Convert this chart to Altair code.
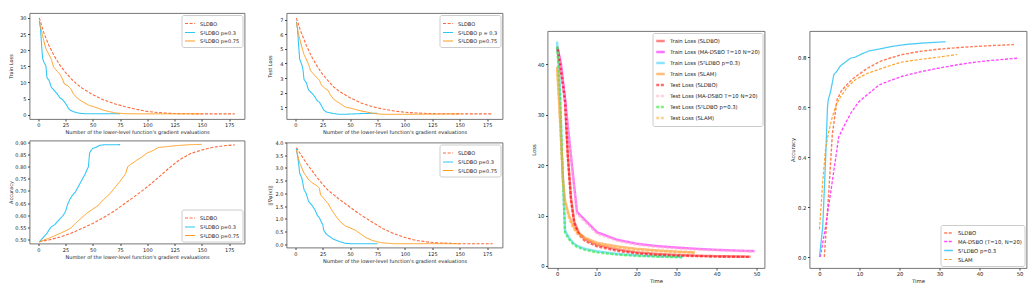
import altair as alt
import pandas as pd

FONT = "DejaVu Sans"
TXT = "#222222"

XT_EVAL = [0, 25, 50, 75, 100, 125, 150, 175]
XT_TIME = [0, 10, 20, 30, 40, 50]
EVAL_TITLE = "Number of the lower-level function's gradient evaluations"

# ---------- panel 1: train loss vs evaluations ----------
P1_SLDBO_X = [1, 5, 10, 15, 20, 25, 30, 35, 40, 50, 60, 70, 80, 90, 100, 110, 120, 130, 140, 180]
P1_SLDBO_Y = [30.0, 25.5, 21.3, 18.0, 15.3, 13.1, 11.2, 9.6, 8.3, 6.2, 4.6, 3.4, 2.5, 1.7, 1.0, 0.7, 0.45, 0.35, 0.3, 0.3]
P1_S2_03_X = [1, 2, 3, 4, 5, 6, 7, 8, 10, 12, 14, 16, 18, 20, 22, 24, 26, 28, 30, 33, 36, 40, 45, 50, 60, 75]
P1_S2_03_Y = [29.0, 27.0, 22.0, 17.5, 16.5, 15.8, 15.2, 11.5, 10.6, 8.5, 7.8, 7.0, 6.2, 5.2, 4.8, 4.0, 3.0, 1.8, 1.3, 0.9, 0.6, 0.4, 0.3, 0.3, 0.3, 0.3]
P1_S2_075_X = [1, 3, 5, 7, 10, 12, 14, 17, 20, 22, 24, 27, 30, 32, 35, 38, 42, 46, 50, 55, 60, 65, 70, 75, 80, 90, 100, 120, 150]
P1_S2_075_Y = [28.5, 26.0, 23.0, 20.5, 18.5, 17.2, 14.8, 13.6, 12.5, 11.2, 9.5, 9.0, 8.0, 6.6, 5.4, 4.6, 3.8, 3.0, 2.6, 2.0, 1.4, 1.0, 0.6, 0.45, 0.35, 0.3, 0.3, 0.3, 0.3]

# ---------- panel 2: test loss vs evaluations ----------
P2_SLDBO_X = [1, 5, 10, 15, 20, 25, 30, 35, 40, 50, 60, 70, 80, 90, 100, 110, 120, 130, 150, 180]
P2_SLDBO_Y = [7.1, 6.2, 5.25, 4.45, 3.8, 3.25, 2.8, 2.4, 2.1, 1.65, 1.3, 1.05, 0.88, 0.75, 0.66, 0.61, 0.58, 0.56, 0.55, 0.55]
P2_S2_03_X = [1, 2, 3, 4, 5, 6, 7, 8, 10, 12, 14, 16, 18, 20, 22, 24, 26, 28, 30, 35, 40, 45, 50, 60, 75]
P2_S2_03_Y = [6.85, 6.4, 5.3, 4.3, 4.1, 3.9, 3.6, 2.9, 2.7, 2.2, 2.05, 1.9, 1.7, 1.45, 1.35, 1.1, 0.8, 0.7, 0.65, 0.57, 0.52, 0.52, 0.54, 0.57, 0.6]
P2_S2_075_X = [1, 3, 5, 8, 10, 12, 14, 17, 20, 22, 24, 27, 30, 32, 35, 38, 42, 46, 50, 55, 60, 65, 70, 75, 80, 90, 100, 120, 150]
P2_S2_075_Y = [6.8, 6.0, 5.4, 4.6, 4.3, 3.95, 3.5, 3.25, 3.0, 2.85, 2.5, 2.3, 2.15, 1.85, 1.55, 1.4, 1.2, 1.0, 0.95, 0.85, 0.75, 0.68, 0.6, 0.55, 0.52, 0.52, 0.52, 0.53, 0.55]

# ---------- panel 3: accuracy vs evaluations ----------
P3_SLDBO_X = [1, 10, 20, 30, 40, 50, 60, 70, 80, 90, 100, 110, 120, 130, 140, 150, 160, 170, 180]
P3_SLDBO_Y = [0.49, 0.498, 0.51, 0.525, 0.545, 0.566, 0.59, 0.618, 0.65, 0.683, 0.717, 0.755, 0.795, 0.83, 0.855, 0.869, 0.88, 0.886, 0.89]
P3_S2_03_X = [1, 3, 5, 8, 10, 12, 15, 18, 20, 23, 25, 27, 29, 31, 34, 37, 40, 43, 46, 47, 48, 50, 53, 56, 60, 75]
P3_S2_03_Y = [0.49, 0.50, 0.51, 0.525, 0.54, 0.552, 0.56, 0.575, 0.585, 0.60, 0.615, 0.645, 0.665, 0.68, 0.695, 0.72, 0.745, 0.77, 0.80, 0.855, 0.865, 0.875, 0.88, 0.888, 0.89, 0.891]
P3_S2_075_X = [1, 5, 10, 15, 20, 25, 30, 35, 40, 45, 50, 55, 60, 65, 70, 75, 80, 82, 85, 90, 95, 100, 105, 110, 120, 130, 140, 150]
P3_S2_075_Y = [0.49, 0.497, 0.505, 0.515, 0.525, 0.535, 0.547, 0.57, 0.59, 0.61, 0.625, 0.64, 0.665, 0.685, 0.712, 0.74, 0.77, 0.80, 0.81, 0.826, 0.84, 0.857, 0.866, 0.879, 0.884, 0.888, 0.891, 0.892]

# ---------- panel 4: gradient norm vs evaluations ----------
P4_SLDBO_X = [1, 10, 20, 25, 30, 40, 50, 60, 70, 80, 90, 100, 110, 120, 130, 150, 180]
P4_SLDBO_Y = [3.8, 3.2, 2.62, 2.36, 2.12, 1.78, 1.46, 1.15, 0.88, 0.62, 0.42, 0.27, 0.16, 0.1, 0.06, 0.03, 0.03]
P4_S2_03_X = [1, 2, 3, 4, 6, 8, 10, 12, 15, 18, 20, 22, 24, 25, 26, 28, 30, 35, 40, 45, 50, 60, 75]
P4_S2_03_Y = [3.75, 3.5, 3.2, 2.8, 2.6, 2.15, 2.0, 1.7, 1.55, 1.35, 1.15, 1.05, 0.85, 0.8, 0.55, 0.42, 0.35, 0.2, 0.12, 0.05, 0.03, 0.03, 0.03]
P4_S2_075_X = [1, 4, 8, 12, 16, 20, 22, 23, 26, 30, 34, 38, 42, 46, 50, 55, 60, 64, 70, 75, 80, 90, 150]
P4_S2_075_Y = [3.7, 3.2, 2.8, 2.55, 2.4, 2.3, 2.2, 1.95, 1.8, 1.6, 1.3, 1.05, 0.85, 0.72, 0.65, 0.55, 0.4, 0.28, 0.16, 0.1, 0.06, 0.03, 0.03]

# ---------- panel 5: train / test loss vs time ----------
P5_SLDBO_T = [0.1, 1, 2, 2.7, 3.5, 4.3, 5.5, 7, 10, 15, 20, 25, 30, 35, 40, 48.5]
P5_SLDBO_TRAIN = [43.5, 39.0, 33.0, 22.0, 13.5, 8.8, 6.5, 5.3, 4.2, 3.3, 2.7, 2.4, 2.2, 2.05, 1.95, 1.85]
P5_SLDBO_TEST = [43.0, 38.5, 32.5, 21.5, 13.0, 8.5, 6.2, 5.0, 3.9, 3.0, 2.5, 2.2, 2.05, 1.95, 1.85, 1.8]
P5_MADSBO_T = [0.2, 1, 2, 3, 4, 5, 10, 15, 20, 25, 30, 35, 40, 45, 49.5]
P5_MADSBO_TRAIN = [43.0, 40.0, 33.0, 25.5, 18.0, 10.7, 6.7, 5.2, 4.4, 3.95, 3.65, 3.4, 3.2, 3.05, 2.95]
P5_MADSBO_TEST = [42.5, 39.5, 32.5, 25.0, 17.5, 10.3, 6.4, 5.0, 4.2, 3.75, 3.45, 3.25, 3.1, 2.95, 2.85]
P5_S2_T = [0.0, 0.4, 0.8, 1.2, 1.7, 2.0, 3, 4, 5, 7, 10, 15, 20, 25, 31.5]
P5_S2_TRAIN = [44.5, 40.0, 33.0, 23.0, 13.0, 7.0, 5.6, 4.6, 4.0, 3.4, 2.9, 2.4, 2.1, 1.95, 1.8]
P5_S2_TEST = [43.5, 39.0, 32.0, 22.0, 12.5, 6.6, 5.3, 4.4, 3.8, 3.2, 2.7, 2.25, 2.0, 1.85, 1.7]
P5_SLAM_T = [0.0, 0.5, 1.0, 1.5, 2.0, 3.0, 4.0, 5.0, 7.0, 10, 15, 20, 25, 30, 34.5]
P5_SLAM_TRAIN = [39.5, 33.0, 25.0, 17.0, 13.0, 10.0, 8.0, 6.8, 5.6, 4.6, 3.9, 3.4, 3.1, 2.85, 2.7]
P5_SLAM_TEST = [39.0, 32.5, 24.5, 16.5, 12.5, 9.5, 7.6, 6.4, 5.3, 4.3, 3.6, 3.15, 2.9, 2.7, 2.6]

# ---------- panel 6: accuracy vs time ----------
P6_SLDBO_T = [1.2, 2.3, 3.2, 4.4, 5.5, 6.9, 8.5, 9.8, 12, 14.8, 17.5, 20.7, 25, 29, 35, 40, 48.6]
P6_SLDBO_Y = [0.0, 0.255, 0.49, 0.63, 0.665, 0.69, 0.715, 0.73, 0.755, 0.78, 0.795, 0.81, 0.822, 0.83, 0.838, 0.843, 0.85]
P6_MADSBO_T = [0.2, 1.5, 3.0, 4.8, 6, 8, 9.8, 12, 14.8, 17.5, 20.7, 25, 29, 33, 37.3, 42, 49.4]
P6_MADSBO_Y = [0.0, 0.12, 0.28, 0.48, 0.52, 0.58, 0.62, 0.65, 0.687, 0.705, 0.723, 0.74, 0.753, 0.765, 0.776, 0.785, 0.795]
P6_S2_T = [0.0, 0.8, 1.5, 2.0, 2.2, 2.75, 3.6, 4.2, 5.25, 6.5, 7.75, 9.0, 10.5, 12.3, 15, 18, 21.5, 26, 31.5]
P6_S2_Y = [0.0, 0.12, 0.38, 0.6, 0.63, 0.66, 0.73, 0.74, 0.765, 0.78, 0.795, 0.8, 0.812, 0.824, 0.832, 0.842, 0.85, 0.856, 0.861]
P6_SLAM_T = [0.0, 0.8, 1.5, 2.3, 3.2, 4.2, 5.25, 7, 9, 12, 14.8, 17.5, 20.7, 25, 30, 34.4]
P6_SLAM_Y = [0.11, 0.3, 0.43, 0.5, 0.56, 0.61, 0.64, 0.68, 0.71, 0.735, 0.75, 0.765, 0.78, 0.79, 0.8, 0.81]

SOLID = [1, 0]
DASH = [3, 1.6]

RED_D = "#ff6a3d"
CYAN = "#2fc6f6"
ORANGE = "#ff9d1f"

STYLE_CHANNELS = dict(color="independent", strokeDash="independent",
                      strokeWidth="independent", opacity="independent")


def long_df(series):
    rows = []
    for name, xs, ys, *_ in series:
        for i, (x, y) in enumerate(zip(xs, ys)):
            rows.append({"x": x, "y": y, "series": name, "i": i})
    return pd.DataFrame(rows)


def panel(series, xdom, ydom, xticks, yticks, yfmt, xtitle, ytitle,
          width, height, yext, legend_orient, fs=5.0, ytp=2.0, sym=100):
    # series entries: (name, xs, ys, color, dash, width, opacity)
    names = [s[0] for s in series]
    df = long_df(series)
    leg = alt.Legend(
        title=None, orient=legend_orient, offset=2, padding=2.5,
        labelFont=FONT, labelFontSize=fs, labelColor=TXT, labelOffset=4,
        symbolType="stroke", symbolSize=sym, rowPadding=0,
        strokeColor="#cccccc", fillColor="white", cornerRadius=2,
        labelLimit=300,
    )
    axis_common = dict(
        labelFont=FONT, titleFont=FONT, labelFontSize=fs, titleFontSize=fs,
        labelColor=TXT, titleColor=TXT, titleFontWeight="normal",
        tickSize=2, tickColor="#444444", domain=False, grid=False,
    )
    return alt.Chart(df).mark_line(clip=True).encode(
        x=alt.X("x:Q", scale=alt.Scale(domain=xdom, nice=False, zero=False),
                axis=alt.Axis(values=xticks, title=xtitle, labelPadding=1.5,
                              titlePadding=2, **axis_common)),
        y=alt.Y("y:Q", scale=alt.Scale(domain=ydom, nice=False, zero=False),
                axis=alt.Axis(values=yticks, format=yfmt, title=ytitle,
                              labelPadding=1.5, titlePadding=ytp,
                              minExtent=yext, maxExtent=yext, **axis_common)),
        color=alt.Color("series:N", scale=alt.Scale(domain=names, range=[s[3] for s in series]), legend=leg),
        strokeDash=alt.StrokeDash("series:N", scale=alt.Scale(domain=names, range=[s[4] for s in series]), legend=leg),
        strokeWidth=alt.StrokeWidth("series:N", scale=alt.Scale(domain=names, range=[s[5] for s in series]), legend=leg),
        opacity=alt.Opacity("series:N", scale=alt.Scale(domain=names, range=[s[6] for s in series]), legend=leg),
        order="i:Q",
    ).properties(width=width, height=height)


def indep(c):
    return c.resolve_scale(**STYLE_CHANNELS).resolve_legend(**STYLE_CHANNELS)


S03 = "S²LDBO p=0.3"
S075 = "S²LDBO p=0.75"

p1 = panel([
    ("SLDBO", P1_SLDBO_X, P1_SLDBO_Y, RED_D, DASH, 1.1, 1.0),
    (S03, P1_S2_03_X, P1_S2_03_Y, CYAN, SOLID, 1.0, 1.0),
    (S075, P1_S2_075_X, P1_S2_075_Y, ORANGE, SOLID, 1.3, 0.9),
], [-8, 189], [-1.3, 31.5], XT_EVAL, [0, 5, 10, 15, 20, 25, 30], "d",
    EVAL_TITLE, "Train Loss", 215, 106, 14, "top-right")

p2 = panel([
    ("SLDBO", P2_SLDBO_X, P2_SLDBO_Y, RED_D, DASH, 1.1, 1.0),
    ("S²LDBO p = 0.3", P2_S2_03_X, P2_S2_03_Y, CYAN, SOLID, 1.0, 1.0),
    (S075, P2_S2_075_X, P2_S2_075_Y, ORANGE, SOLID, 1.3, 0.9),
], [-8, 189], [0.2, 7.45], XT_EVAL, [1, 2, 3, 4, 5, 6, 7], "d",
    EVAL_TITLE, "Test Loss", 216, 106, 12.5, "top-right")

p3 = panel([
    ("SLDBO", P3_SLDBO_X, P3_SLDBO_Y, RED_D, DASH, 1.1, 1.0),
    (S03, P3_S2_03_X, P3_S2_03_Y, CYAN, SOLID, 1.0, 1.0),
    (S075, P3_S2_075_X, P3_S2_075_Y, ORANGE, SOLID, 1.3, 0.9),
], [-8, 189], [0.483, 0.908], XT_EVAL,
    [0.50, 0.55, 0.60, 0.65, 0.70, 0.75, 0.80, 0.85, 0.90], ".2f",
    EVAL_TITLE, "Accuracy", 215, 103, 14, "bottom-right")

p4 = panel([
    ("SLDBO", P4_SLDBO_X, P4_SLDBO_Y, RED_D, DASH, 1.1, 1.0),
    (S03, P4_S2_03_X, P4_S2_03_Y, CYAN, SOLID, 1.0, 1.0),
    (S075, P4_S2_075_X, P4_S2_075_Y, ORANGE, SOLID, 1.3, 0.9),
], [-8, 189], [-0.12, 4.0], XT_EVAL,
    [0.0, 0.5, 1.0, 1.5, 2.0, 2.5, 3.0, 3.5, 4.0], ".1f",
    EVAL_TITLE, "||∇φ(x)||", 216, 105, 12.5, "top-right")

p5 = panel([
    ("Train Loss (SLDBO)", P5_SLDBO_T, P5_SLDBO_TRAIN, "#ff2020", SOLID, 2.4, 0.55),
    ("Train Loss (MA-DSBO T=10 N=20)", P5_MADSBO_T, P5_MADSBO_TRAIN, "#ff00ff", SOLID, 2.4, 0.6),
    ("Train Loss (S²LDBO p=0.3)", P5_S2_T, P5_S2_TRAIN, "#33ccff", SOLID, 2.4, 0.6),
    ("Train Loss (SLAM)", P5_SLAM_T, P5_SLAM_TRAIN, "#ff8c1a", SOLID, 1.1, 1.0),
    ("Test Loss (SLDBO)", P5_SLDBO_T, P5_SLDBO_TEST, "#ff0000", DASH, 1.2, 1.0),
    ("Test Loss (MA-DSBO T=10 N=20)", P5_MADSBO_T, P5_MADSBO_TEST, "#ffb3c6", DASH, 1.0, 1.0),
    ("Test Loss (S²LDBO p=0.3)", P5_S2_T, P5_S2_TEST, "#22ee22", DASH, 1.1, 1.0),
    ("Test Loss (SLAM)", P5_SLAM_T, P5_SLAM_TEST, "#ffb347", DASH, 2.0, 0.8),
], [-2.4, 52], [-0.4, 46.6], XT_TIME, [0, 10, 20, 30, 40], "d",
    "Time", "Loss", 217, 237, 10, "top-right", fs=5.3, ytp=1.5, sym=72)

p6 = panel([
    ("SLDBO", P6_SLDBO_T, P6_SLDBO_Y, "#ff5a2a", DASH, 1.4, 0.8),
    ("MA-DSBO (T=10, N=20)", P6_MADSBO_T, P6_MADSBO_Y, "#ff22ff", DASH, 1.2, 0.9),
    ("S²LDBO p=0.3", P6_S2_T, P6_S2_Y, "#33c4f5", SOLID, 1.3, 1.0),
    ("SLAM", P6_SLAM_T, P6_SLAM_Y, "#ff9a1a", DASH, 1.6, 0.75),
], [-2.5, 51.75], [-0.044, 0.904], XT_TIME, [0.0, 0.2, 0.4, 0.6, 0.8], ".1f",
    "Time", "Accuracy", 217, 237, 12.5, "bottom-right", fs=5.3, sym=75)

spacer = alt.Chart(pd.DataFrame({"v": [0]})).mark_rule(opacity=0).encode(
    x=alt.value(0), x2=alt.value(1), y=alt.value(0)
).properties(width=10, height=1, view=alt.ViewBackground(strokeOpacity=0))

col1 = indep(alt.vconcat(p1, p3, spacing=4.5))
col2 = indep(alt.vconcat(p2, p4, spacing=4.5))
left = indep(alt.hconcat(col1, col2, spacing=21))
right = indep(alt.vconcat(spacer, indep(alt.hconcat(p5, p6, spacing=24)), spacing=16))

chart = indep(alt.hconcat(left, right, spacing=27)).properties(
    padding={"left": 7.5, "top": 12, "right": 2, "bottom": 2},
    background="white",
).configure_view(stroke="#666666", strokeWidth=0.9)

chart.save("out.html", embed_options={"renderer": "svg", "actions": False})
